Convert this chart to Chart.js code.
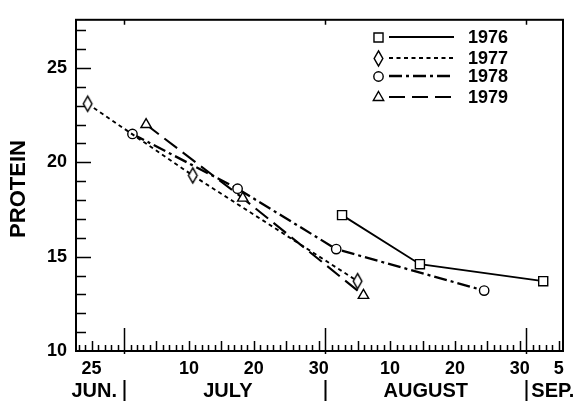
<!DOCTYPE html>
<html>
<head>
<meta charset="utf-8">
<script src="https://cdn.jsdelivr.net/npm/chart.js@4.4.0/dist/chart.umd.min.js"></script>
<style>
  html,body{margin:0;padding:0;background:#fff;}
  #wrap{width:574px;height:409px;}
</style>
</head>
<body>
<div id="wrap"><canvas id="chart" width="574" height="409"></canvas></div>
<script>
// x values are days counted from June 30 (Jul 1 = 1, Aug 1 = 32, Sep 1 = 63)
const years = ['1976', '1977', '1978', '1979'];

const days1976 = [33.6, 45.6, 64.6];
const protein1976 = [17.2, 14.6, 13.7];

const days1977 = [-5.6, 10.6, 36.0];
const protein1977 = [23.1, 19.3, 13.7];

const days1978 = [1.3, 17.5, 32.7, 55.5];
const protein1978 = [21.5, 18.6, 15.4, 13.2];

const days1979 = [3.4, 18.3, 36.9];
const protein1979 = [22.0, 18.1, 12.95];

const yTicks = [10, 15, 20, 25];
const xTickDays = [-5, 10, 20, 30, 41, 51, 61, 67];
const monthNames = ['JUN.', 'JULY', 'AUGUST', 'SEP.'];
const monthEnds = [0, 31, 62];      // last day of Jun, Jul, Aug
const monthMids = [-3, 16, 46.5, 65];

const X_MIN = -7.4, X_MAX = 67.65;
const Y_MIN = 10, Y_MAX = 27.55;
const FONT = '"Liberation Sans", Arial, Helvetica, sans-serif';

function dayOfMonth(d){
  if(d <= 0) return d + 30;
  if(d <= 31) return d;
  if(d <= 62) return d - 31;
  return d - 62;
}

// tall open diamond, the built-in rectRot is square
function tallDiamond(){
  const c = document.createElement('canvas');
  c.width = 13; c.height = 19;
  const g = c.getContext('2d');
  const cx = 6.5, cy = 9.5;
  g.beginPath();
  g.moveTo(cx, cy-7.6); g.lineTo(cx+4.3, cy); g.lineTo(cx, cy+7.6); g.lineTo(cx-4.3, cy); g.closePath();
  g.fillStyle = '#fff'; g.fill();
  g.strokeStyle = '#000'; g.lineWidth = 1.5; g.stroke();
  return c;
}

const styles = [
  {point: 'rect',        radius: 6.4, dash: [],            width: 1.9},
  {point: tallDiamond(), radius: 5,   dash: [4, 3.5],      width: 1.9},
  {point: 'circle',      radius: 4.7, dash: [13, 4, 3, 4], width: 2.3},
  {point: 'triangle',    radius: 6,   dash: [16, 7],       width: 2.1}
];

const seriesDays = [days1976, days1977, days1978, days1979];
const seriesVals = [protein1976, protein1977, protein1978, protein1979];

const datasets = years.map((y, i) => ({
  label: y,
  data: seriesDays[i].map((d, j) => ({x: d, y: seriesVals[i][j]})),
  borderColor: '#000',
  borderWidth: styles[i].width,
  borderDash: styles[i].dash,
  pointStyle: styles[i].point,
  pointRadius: styles[i].radius,
  pointBackgroundColor: '#fff',
  pointBorderColor: '#000',
  pointBorderWidth: 1.4,
  fill: false,
  tension: 0
}));

const frame = {
  id: 'frame',
  beforeDatasetsDraw(chart){
    const {ctx, chartArea: a, scales: {x, y}} = chart;
    ctx.save();
    ctx.strokeStyle = '#000';
    ctx.lineWidth = 2;
    ctx.strokeRect(a.left, a.top, a.right - a.left, a.bottom - a.top);
    ctx.lineWidth = 1.5;
    ctx.beginPath();
    // y ticks, inside
    for(let v = 11; v <= 27; v++){
      const py = Math.round(y.getPixelForValue(v)) + 0.5;
      const len = v % 5 === 0 ? 15 : 10;
      ctx.moveTo(a.left, py); ctx.lineTo(a.left + len, py);
    }
    // x daily ticks
    for(let d = Math.ceil(X_MIN); d <= Math.floor(X_MAX); d++){
      const px = Math.round(x.getPixelForValue(d)) + 0.5;
      if(monthEnds.includes(d)){
        ctx.moveTo(px, a.bottom + 3); ctx.lineTo(px, a.bottom - 23);
        ctx.moveTo(px, a.top); ctx.lineTo(px, a.top + 5);
      } else {
        const len = dayOfMonth(d) % 5 === 0 ? 10 : 6;
        ctx.moveTo(px, a.bottom); ctx.lineTo(px, a.bottom - len);
      }
    }
    ctx.stroke();
    ctx.restore();
  },
  afterDraw(chart){
    const {ctx, scales: {x}} = chart;
    ctx.save();
    ctx.fillStyle = '#000';
    ctx.strokeStyle = '#000';
    // y title
    ctx.save();
    ctx.translate(19, 189);
    ctx.rotate(-Math.PI/2);
    ctx.font = 'bold 22px ' + FONT;
    ctx.textAlign = 'center';
    ctx.textBaseline = 'middle';
    ctx.fillText('PROTEIN', 0, 0);
    ctx.restore();

    // month names and separators
    ctx.font = 'bold 20px ' + FONT;
    ctx.textBaseline = 'alphabetic';
    const base = 397;
    monthNames.forEach((m, i) => {
      const px = x.getPixelForValue(monthMids[i]);
      if(i === 0){ ctx.textAlign = 'right'; ctx.fillText(m, x.getPixelForValue(monthEnds[0]) - 7, base); }
      else if(i === monthNames.length - 1){ ctx.textAlign = 'left'; ctx.fillText(m, x.getPixelForValue(monthEnds[2]) + 5, base); }
      else { ctx.textAlign = 'center'; ctx.fillText(m, px, base); }
    });
    ctx.lineWidth = 2;
    ctx.beginPath();
    monthEnds.forEach(d => {
      const px = Math.round(x.getPixelForValue(d)) + 0.5;
      ctx.moveTo(px, 380); ctx.lineTo(px, 401);
    });
    ctx.stroke();

    // legend
    const rows = [37, 58, 76, 97];
    ctx.font = 'bold 18px ' + FONT;
    ctx.textAlign = 'left';
    ctx.textBaseline = 'middle';
    years.forEach((yr, i) => {
      const ry = rows[i];
      ctx.save();
      ctx.lineWidth = styles[i].width;
      ctx.setLineDash(styles[i].dash);
      ctx.beginPath();
      ctx.moveTo(389, ry); ctx.lineTo(454, ry);
      ctx.stroke();
      ctx.restore();
      ctx.save();
      ctx.fillStyle = '#fff';
      ctx.strokeStyle = '#000';
      ctx.lineWidth = 1.4;
      Chart.helpers.drawPoint(ctx, {pointStyle: styles[i].point, radius: styles[i].radius, rotation: 0, borderWidth: 1.4}, 378.5, ry + 0.5);
      ctx.restore();
      ctx.fillText(yr, 468, ry + 1);
    });
    ctx.restore();
  }
};

new Chart(document.getElementById('chart'), {
  type: 'line',
  data: {datasets},
  options: {
    responsive: false,
    devicePixelRatio: 1,
    animation: false,
    layout: {padding: {top: 7, right: 11, left: 0, bottom: 0}},
    plugins: {legend: {display: false}, tooltip: {enabled: false}},
    scales: {
      x: {
        type: 'linear', min: X_MIN, max: X_MAX,
        afterFit(s){ s.height = 58; },
        afterBuildTicks(s){ s.ticks = xTickDays.map(v => ({value: v})); },
        grid: {display: false, drawTicks: false},
        border: {display: false},
        ticks: {
          autoSkip: false, maxRotation: 0, padding: 7, color: '#000',
          font: {family: FONT, size: 18, weight: 'bold'},
          callback: v => String(dayOfMonth(v))
        }
      },
      y: {
        type: 'linear', min: Y_MIN, max: Y_MAX,
        afterFit(s){ s.width = 76; },
        afterBuildTicks(s){ s.ticks = yTicks.map(v => ({value: v})); },
        grid: {display: false, drawTicks: false},
        border: {display: false},
        ticks: {padding: 9, color: '#000', font: {family: FONT, size: 18, weight: 'bold'}}
      }
    }
  },
  plugins: [frame]
});
</script>
</body>
</html>
